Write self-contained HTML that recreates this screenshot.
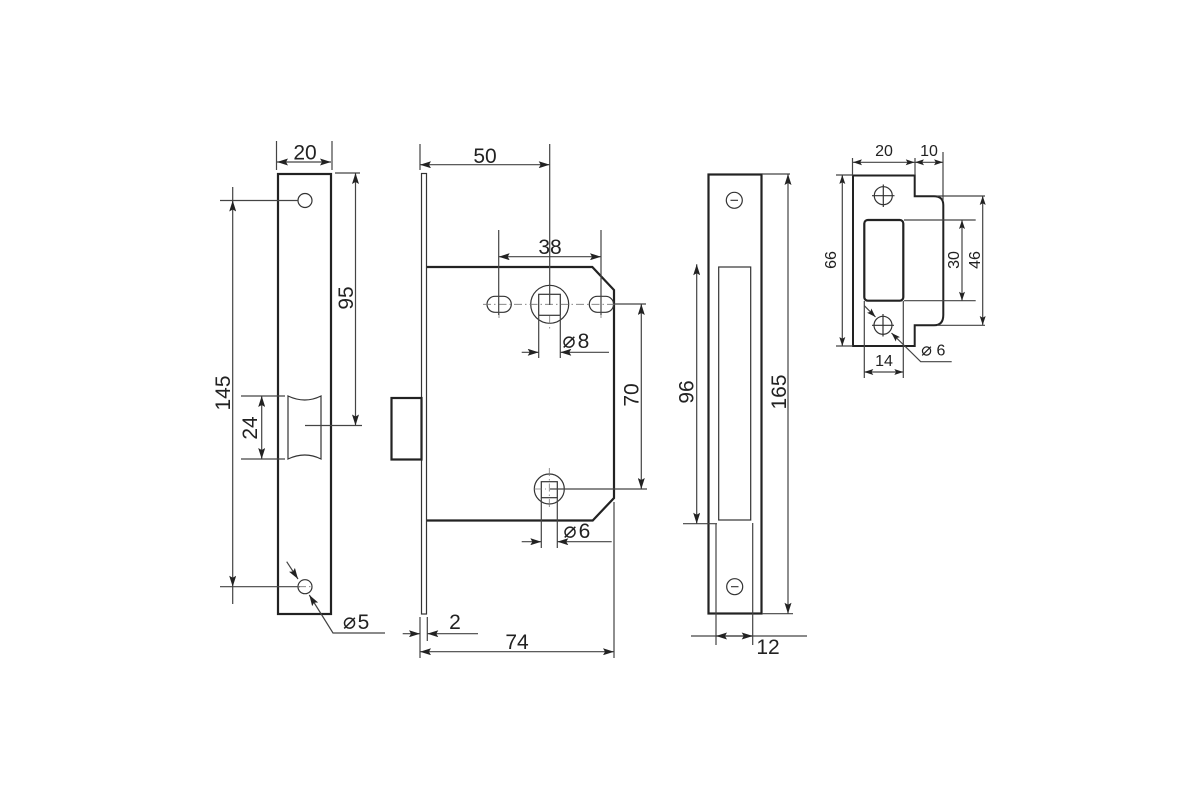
<!DOCTYPE html>
<html><head><meta charset="utf-8"><style>
html,body{margin:0;padding:0;background:#fff}
svg{display:block}
text{font-family:"Liberation Sans",sans-serif;fill:#222}
.big{font-size:21px;text-anchor:middle}
.sm{font-size:16px;text-anchor:middle}
.d{font-family:"DejaVu Sans",sans-serif;text-anchor:middle}
.t{stroke:#222;stroke-width:2.2;fill:none}
.m{stroke:#333;stroke-width:1.2;fill:none}
.l{stroke:#444;stroke-width:1.2;fill:none}
.a{marker-start:url(#s);marker-end:url(#e)}
.e{marker-end:url(#e)}
.b{marker-start:url(#s2);marker-end:url(#e2)}
.f{marker-end:url(#e2)}
.c{stroke:#777;stroke-width:.8;stroke-dasharray:8 3 1.5 3;fill:none}
</style></head><body>
<svg width="1200" height="800" viewBox="0 0 1200 800" xmlns="http://www.w3.org/2000/svg">
<defs>
<marker id="e" viewBox="0 0 11 7" refX="11" refY="3.500" markerWidth="11" markerHeight="7" markerUnits="userSpaceOnUse" orient="auto"><path d="M11 3.500L0 0L2 3.500L0 7Z" fill="#222"/></marker>
<marker id="s" viewBox="0 0 11 7" refX="0" refY="3.500" markerWidth="11" markerHeight="7" markerUnits="userSpaceOnUse" orient="auto"><path d="M0 3.500L11 0L9 3.500L11 7Z" fill="#222"/></marker>
<marker id="e2" viewBox="0 0 9 6" refX="9" refY="3" markerWidth="9" markerHeight="6" markerUnits="userSpaceOnUse" orient="auto"><path d="M9 3L0 0L1.800 3L0 6Z" fill="#222"/></marker>
<marker id="s2" viewBox="0 0 9 6" refX="0" refY="3" markerWidth="9" markerHeight="6" markerUnits="userSpaceOnUse" orient="auto"><path d="M0 3L9 0L7.200 3L9 6Z" fill="#222"/></marker>
</defs>
<rect width="1200" height="800" fill="#fff"/>

<!-- Front plate -->
<rect class="t" x="278" y="174" width="53" height="440"/>
<circle class="m" cx="305" cy="200.500" r="7"/>
<circle class="m" cx="305" cy="586.700" r="7"/>
<path class="m" d="M288 396Q305 404 321 396V459Q305 451 288 459Z"/>
<path class="l" d="M276.500 141V170M332 141V170M335 173H360M305 425.500H362M220 200.500H298M220 586.700H300M241 396H285M241 459H285M232.700 187V200.500M232.700 586.700V604"/>
<line class="l a" x1="232.700" y1="200.500" x2="232.700" y2="586.700"/>
<line class="l a" x1="277" y1="162" x2="331" y2="162"/>
<line class="l a" x1="355.500" y1="173" x2="355.500" y2="425.500"/>
<line class="l a" x1="261.700" y1="396" x2="261.700" y2="459"/>
<line class="l e" x1="286.700" y1="561.700" x2="298" y2="579"/>
<polyline class="l e" points="385,633 333,633 309.300,595"/>
<path class="c" d="M298 586.700H312"/>
<text class="big" x="305" y="159.500">20</text>
<text class="big" transform="translate(353 298) rotate(-90)">95</text>
<text class="big" transform="translate(230 393) rotate(-90)">145</text>
<text class="big" transform="translate(257 428) rotate(-90)">24</text>
<text class="d" x="349.500" y="628.500" font-size="22">⌀</text>
<text class="big" x="363.500" y="629">5</text>

<!-- Lock case -->
<rect class="m" x="421.500" y="173.500" width="5" height="440.500"/>
<path class="t" d="M427 267H592.300L614 290V498L592.700 520.500H427"/>
<rect class="t" x="391.500" y="398" width="30" height="61.500"/>
<circle class="m" cx="549.700" cy="304.300" r="19"/>
<rect class="m" x="538.700" y="294.300" width="21.600" height="21"/>
<rect class="m" x="487" y="296.300" width="24.300" height="16" rx="8"/>
<rect class="m" x="589.300" y="296.300" width="24.300" height="16" rx="8"/>
<path class="c" d="M483 304.300H615M499 312V318M601 312V318M549.700 316V330"/>
<circle class="m" cx="549.300" cy="489" r="15"/>
<rect class="m" x="541.300" y="481.700" width="16" height="16"/>
<path class="c" d="M549.300 468V510M534 489H546"/>
<path class="l" d="M420 144V170M549.700 144V305M498.700 230V315M601 230V315M538.700 316V358M560.300 316V358M614 304H646M550 489H647M541.300 498V548M557.300 498V548M614 502V658M420 617V658M427.300 617V641"/>
<line class="l a" x1="420" y1="164.700" x2="549.700" y2="164.700"/>
<line class="l a" x1="498.700" y1="256.700" x2="601" y2="256.700"/>
<line class="l a" x1="641.300" y1="304" x2="641.300" y2="489"/>
<line class="l a" x1="420" y1="651.700" x2="614" y2="651.700"/>
<line class="l e" x1="521.700" y1="352.300" x2="538.700" y2="352.300"/>
<line class="l e" x1="609" y1="352.300" x2="560.300" y2="352.300"/>
<line class="l e" x1="521.700" y1="541.700" x2="541.300" y2="541.700"/>
<line class="l e" x1="611.700" y1="541.700" x2="557.300" y2="541.700"/>
<line class="l e" x1="402.700" y1="633.700" x2="420" y2="633.700"/>
<line class="l e" x1="478" y1="633.700" x2="427.300" y2="633.700"/>
<text class="big" x="485" y="163">50</text>
<text class="big" x="550" y="254">38</text>
<text class="d" x="569" y="347.500" font-size="22">⌀</text>
<text class="big" x="583.500" y="348">8</text>
<text class="d" x="570" y="537.500" font-size="22">⌀</text>
<text class="big" x="584.500" y="538">6</text>
<text class="big" transform="translate(638.500 395) rotate(-90)">70</text>
<text class="big" x="455" y="629">2</text>
<text class="big" x="517" y="649">74</text>

<!-- Strip -->
<rect class="t" x="708.500" y="174.500" width="53" height="439"/>
<rect class="m" x="718.700" y="267" width="32" height="253"/>
<circle class="m" cx="734.300" cy="200.300" r="8"/>
<circle class="m" cx="734.700" cy="586.700" r="8"/>
<path class="m" d="M730.500 200.300H738M731 586.700H738.500"/>
<path class="l" d="M762 174H790M762 613.700H793M683 523.700H717M716 523.700V645M752.700 523V645M691 636H807"/>
<line class="l a" x1="788" y1="174" x2="788" y2="613.700"/>
<line class="l a" x1="696.700" y1="264.300" x2="696.700" y2="523.700"/>
<line class="l a" x1="716" y1="636" x2="752.700" y2="636"/>
<text class="big" transform="translate(786 392) rotate(-90)">165</text>
<text class="big" transform="translate(693.500 392) rotate(-90)">96</text>
<text class="big" x="768" y="654">12</text>

<!-- Striker -->
<path class="t" style="stroke-width:2" d="M853 175.500H914.700V196.300H934Q943.300 196.300 943.300 205V315Q943.300 325.300 934 325.300H914.700V346H853Z"/>
<rect class="t" x="864.300" y="220" width="39" height="80.700" rx="3.500"/>
<circle class="m" cx="883.300" cy="195.700" r="9"/>
<circle class="m" cx="883" cy="325.300" r="9"/>
<path class="m" d="M883.300 184.500V207M872 195.700H894.500M883 314V336.500M872 325.300H894"/>
<path class="l" d="M852.500 158V175M915 158V175M943 152V200M836 175H853M836 346H853M937 196H985M937 325.300H985M904 220H975.700M904 300.700H975.700M864.300 301V378M903.300 301V378"/>
<line class="l b" x1="853" y1="162.300" x2="914.700" y2="162.300"/>
<line class="l b" x1="915" y1="162.300" x2="943" y2="162.300"/>
<line class="l b" x1="842.300" y1="175" x2="842.300" y2="346"/>
<line class="l b" x1="982.700" y1="196" x2="982.700" y2="325"/>
<line class="l b" x1="962" y1="220" x2="962" y2="300.700"/>
<line class="l b" x1="864.300" y1="372" x2="903.300" y2="372"/>
<line class="l f" x1="864.300" y1="305.700" x2="875.500" y2="317"/>
<polyline class="l f" points="951.700,361.700 920.700,361.700 891.500,333"/>
<text class="sm" x="884" y="156">20</text>
<text class="sm" x="929" y="156">10</text>
<text class="sm" transform="translate(836 260) rotate(-90)">66</text>
<text class="sm" transform="translate(959 260) rotate(-90)">30</text>
<text class="sm" transform="translate(980 260) rotate(-90)">46</text>
<text class="sm" x="884" y="366">14</text>
<text class="d" x="926.500" y="355.500" font-size="18">⌀</text>
<text class="sm" x="941" y="355.500">6</text>
</svg>
</body></html>
